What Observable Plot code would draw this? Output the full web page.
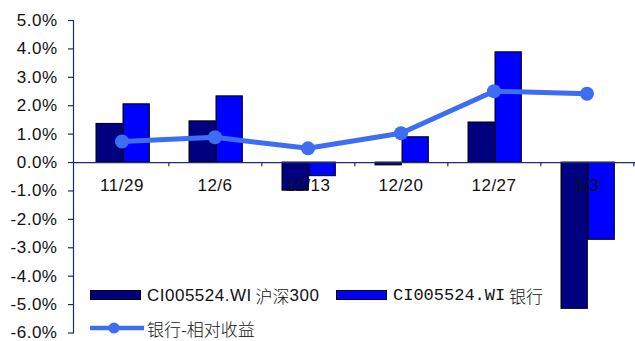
<!DOCTYPE html>
<html>
<head>
<meta charset="utf-8">
<script src="https://cdn.jsdelivr.net/npm/d3@7"></script>
<script src="https://cdn.jsdelivr.net/npm/@observablehq/plot@0.6"></script>
<style>
  html, body { margin: 0; padding: 0; background: #fff; }
  #wrap { position: relative; width: 635px; height: 341px; overflow: hidden; }
  #wrap svg text { letter-spacing: 0.5px; }
  .lg { position: absolute; display: flex; align-items: center; font-size: 17px; line-height: 1; color: #111; white-space: nowrap; }
  .sw { width: 49px; height: 8px; border: 1px solid #000; margin-right: 6px; }
  .sans { font-family: "Liberation Sans", Arial, "Noto Sans CJK SC", sans-serif; letter-spacing: 0.5px; }
  .cjk { font-family: "Noto Sans CJK SC", sans-serif; font-weight: 300; }
  .mono { font-family: "Liberation Mono", "Noto Sans CJK SC", monospace; }
</style>
</head>
<body>
<div id="wrap"></div>
<script>
// Weekly returns (%)
const dates = ["11/29", "12/6", "12/13", "12/20", "12/27", "1/3"];
const hs300 = [1.36, 1.45, -0.99, -0.10, 1.41, -5.15];   // CI005524.WI 沪深300
const bank = [2.05, 2.33, -0.48, 0.89, 3.88, -2.72];     // CI005524.WI 银行
const relative = [0.74, 0.89, 0.50, 1.03, 2.51, 2.42];   // 银行-相对收益
const yTicks = [-6, -5, -4, -3, -2, -1, 0, 1, 2, 3, 4, 5];

const rows = dates.map((d, i) => ({date: d, hs300: hs300[i], bank: bank[i], relative: relative[i]}));

const W = 635, H = 341, mL = 73, mR = 0;
const band = (W - mL - mR) / dates.length;
const barW = 27, barOff = 21;
const axisColor = "#1c2d6e";
const fmt = d => d.toFixed(1).replace("\u2212", "-") + "%";

const chart = Plot.plot({
  width: W,
  height: H,
  marginLeft: mL,
  marginRight: mR,
  marginTop: 20,
  marginBottom: 8.5,
  x: {domain: dates, padding: 0, axis: null},
  y: {domain: [-6, 5], axis: null},
  style: {fontFamily: "'Liberation Sans', Arial, sans-serif", fontSize: "17px", color: "#111", background: "#fff"},
  marks: [
    Plot.barY(rows, {x: "date", y: "hs300", fill: "#000080", stroke: "#000", strokeWidth: 1,
      insetLeft: barOff, insetRight: band - barOff - barW}),
    Plot.barY(rows, {x: "date", y: "bank", fill: "#0000ff", stroke: "#000", strokeWidth: 1,
      insetLeft: barOff + barW, insetRight: band - barOff - 2 * barW}),
    Plot.ruleY([0], {stroke: axisColor, strokeWidth: 1.2}),
    Plot.ruleX(dates, {x: d => d, y1: 0, y2: -0.15, dx: band / 2, stroke: axisColor, strokeWidth: 1.2}),
    Plot.frame({anchor: "left", stroke: axisColor, strokeWidth: 1.2}),
    Plot.axisY({ticks: yTicks, tickSize: 5, tickFormat: () => "", stroke: axisColor, strokeWidth: 1.2}),
    Plot.axisY({ticks: yTicks, tickSize: 0, tickPadding: 16, tickFormat: fmt, fill: "#111"}),
    Plot.text(rows, {x: "date", y: 0, dy: 23, text: "date", fill: "#111"}),
    Plot.line(rows, {x: "date", y: "relative", stroke: "#3d6df2", strokeWidth: 5}),
    Plot.dot(rows, {x: "date", y: "relative", r: 7, fill: "#3d6df2", stroke: "none"})
  ]
});

const wrap = document.getElementById("wrap");
wrap.appendChild(chart);

// Legend laid over the lower part of the plot area
const legend = document.createElement("div");
legend.innerHTML = `
  <div class="lg" style="left:90px; top:285px; height:20px;">
    <div class="sw" style="background:#000080"></div>
    <span class="sans">CI005524.WI</span><span class="cjk">&nbsp;沪深</span><span class="sans">300</span>
  </div>
  <div class="lg" style="left:336px; top:285px; height:20px;">
    <div class="sw" style="background:#0000ff"></div>
    <span class="mono">CI005524.WI</span><span class="cjk">&nbsp;银行</span>
  </div>
  <div class="lg" style="left:90px; top:318px; height:20px;">
    <svg width="54" height="14" style="margin-right:3px">
      <line x1="0" x2="54" y1="7" y2="7" stroke="#3d6df2" stroke-width="4.5" stroke-linecap="round"></line>
      <circle cx="24" cy="7" r="5.5" fill="#3d6df2"></circle>
    </svg>
    <span class="cjk">银行-相对收益</span>
  </div>`;
wrap.appendChild(legend);
</script>
</body>
</html>
